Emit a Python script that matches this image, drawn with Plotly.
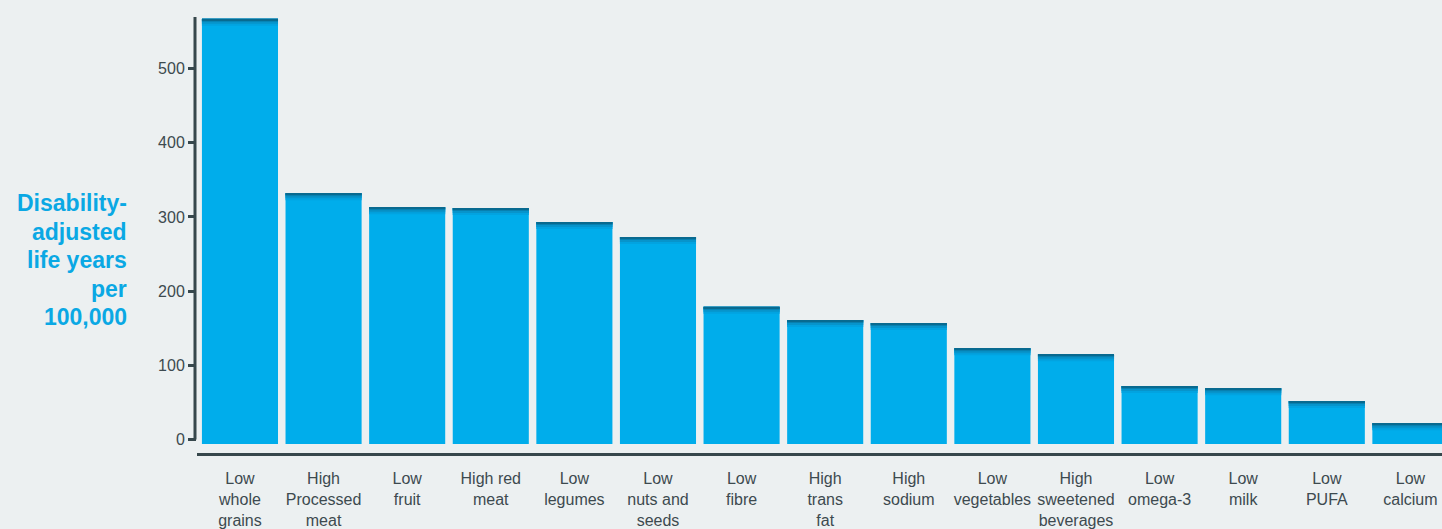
import plotly.graph_objects as go

categories = [
    "Low<br>whole<br>grains", "High<br>Processed<br>meat", "Low<br>fruit", "High red<br>meat",
    "Low<br>legumes", "Low<br>nuts and<br>seeds", "Low<br>fibre", "High<br>trans<br>fat",
    "High<br>sodium", "Low<br>vegetables", "High<br>sweetened<br>beverages", "Low<br>omega-3",
    "Low<br>milk", "Low<br>PUFA", "Low<br>calcium",
]
values = [567, 332, 313, 312, 293, 273, 179, 161, 157, 123, 115, 72, 69, 52, 22]
y_ticks = [0, 100, 200, 300, 400, 500]
title_lines = ["Disability-", "adjusted", "life years", "per", "100,000"]

BG = "#ecf0f1"
BAR = "#00adeb"
DARK = "#37474c"
TXT = "#3d4a4f"
TITLE = "#0aa8e4"

W, H = 1442, 529
ML, MR, MT, MB = 197, 0, 17, 76
YR = [-18.2, 569.4]
XR = [-0.514, 14.378]
plot_h = H - MT - MB
ppu = plot_h / (YR[1] - YR[0])
base_off = -6.0

fig = go.Figure()
fig.add_trace(go.Bar(
    x=categories, y=[v - base_off for v in values], base=[base_off] * len(values),
    marker=dict(color=BAR, line=dict(width=0)), hoverinfo="skip",
))
# top shading bands (gradient-like edge)
bands = [(7, "#02a3e0"), (5, "#0794cb"), (3, "#0780b0"), (1.5, "#086a90")]
for px, col in bands:
    h = px / ppu
    fig.add_trace(go.Bar(
        x=categories, y=[h] * len(values), base=[v - h for v in values],
        marker=dict(color=col, line=dict(width=0)), hoverinfo="skip",
    ))

fig.update_layout(
    width=W, height=H, margin=dict(l=ML, r=MR, t=MT, b=MB),
    paper_bgcolor=BG, plot_bgcolor=BG, barmode="overlay", bargap=0.09,
    showlegend=False,
    font=dict(family="Liberation Sans, Arial, sans-serif", color=TXT, size=16),
)
fig.update_xaxes(
    range=XR, showgrid=False, zeroline=False, showline=True, linecolor=DARK, linewidth=3,
    ticks="outside", ticklen=9, tickcolor=BG, tickfont=dict(size=16, color=TXT),
    fixedrange=True,
)
fig.update_yaxes(
    range=YR, showgrid=False, zeroline=False, showline=False,
    tickvals=y_ticks, ticktext=[str(t) for t in y_ticks],
    ticks="outside", ticklen=8, tickwidth=3, tickcolor=DARK,
    tickfont=dict(size=16, color=TXT), fixedrange=True,
)
# y-axis line from 0 up to the top of the plot
y0_paper = (0 - YR[0]) / (YR[1] - YR[0])
fig.add_shape(type="line", xref="paper", yref="paper",
              x0=-2.0 / (W - ML), x1=-2.0 / (W - ML), y0=y0_paper, y1=1.0,
              line=dict(color=DARK, width=3))

line_gap = 28.5
first_y = 203
for i, t in enumerate(title_lines):
    ypx = first_y + i * line_gap
    fig.add_annotation(
        text=f"<b>{t}</b>",
        xref="paper", yref="paper", x=(129 - ML) / (W - ML), y=(H - MB - ypx) / plot_h,
        xanchor="right", yanchor="middle", align="right", showarrow=False,
        font=dict(size=23, color=TITLE, family="Liberation Sans, Arial, sans-serif"),
    )

fig.write_html(
    "out.html",
    config={"displayModeBar": False},
    post_script="document.body.style.margin='0';document.body.style.background='#ecf0f1';"
                "document.body.style.overflow='hidden';",
)
